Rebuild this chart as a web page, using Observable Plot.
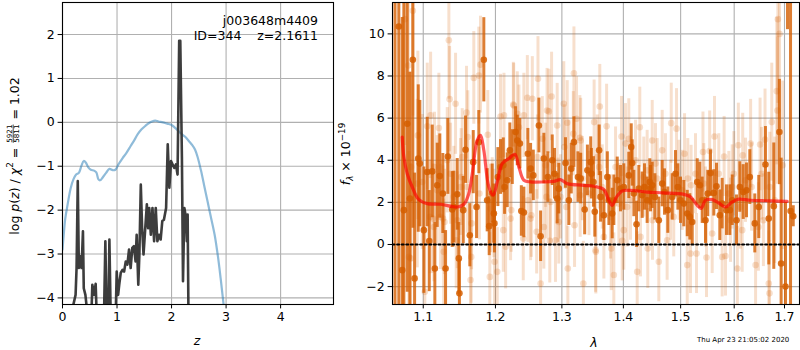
<!DOCTYPE html>
<html><head><meta charset="utf-8">
<script src="https://cdn.jsdelivr.net/npm/d3@7"></script>
<script src="https://cdn.jsdelivr.net/npm/@observablehq/plot@0.6"></script>
<style>
html,body{margin:0;padding:0;background:#fff;}
#wrap{position:relative;width:800px;height:350px;overflow:hidden;}
#wrap svg{position:absolute;top:0;}
</style></head><body><div id="wrap"></div>
<script>
// ---------------- DATA ----------------
// Left panel: p(z) curve (blue) and chi2-based log p(z) (dark)
const pzBlue = [[0.00,-2.9],[0.02,-2.6],[0.05,-2.2],[0.09,-1.9],[0.15,-1.5],[0.20,-1.3],[0.25,-1.19],[0.30,-1.15],[0.35,-0.98],[0.39,-0.88],[0.43,-0.92],[0.47,-1.02],[0.52,-1.08],[0.58,-1.10],[0.62,-1.14],[0.66,-1.30],[0.69,-1.32],[0.74,-1.25],[0.80,-1.15],[0.86,-1.06],[0.92,-1.09],[0.97,-1.08],[1.03,-0.95],[1.10,-0.82],[1.17,-0.70],[1.25,-0.54],[1.32,-0.40],[1.38,-0.27],[1.45,-0.16],[1.52,-0.08],[1.58,-0.02],[1.64,0.02],[1.70,0.04],[1.76,0.02],[1.84,0.00],[1.92,-0.03],[2.00,-0.06],[2.06,-0.12],[2.12,-0.19],[2.18,-0.26],[2.25,-0.33],[2.32,-0.43],[2.38,-0.52],[2.43,-0.62],[2.48,-0.80],[2.54,-1.10],[2.60,-1.45],[2.66,-1.80],[2.72,-2.15],[2.79,-2.56],[2.85,-3.05],[2.90,-3.55],[2.95,-4.10],[3.00,-4.7]];
const pzChi = [[0.17,-4.6],[0.20,-4.15],[0.24,-3.93],[0.258,-3.32],[0.28,-1.34],[0.30,-3.32],[0.33,-3.05],[0.35,-3.32],[0.375,-2.48],[0.39,-3.78],[0.42,-3.93],[0.46,-4.4],[0.50,-5.5],[0.53,-4.4],[0.547,-3.70],[0.577,-3.93],[0.608,-3.68],[0.63,-4.5],[0.70,-5.5],[0.76,-4.5],[0.786,-2.71],[0.81,-4.5],[0.835,-5.0],[0.86,-2.67],[0.885,-4.5],[0.93,-5.5],[0.976,-4.4],[0.994,-3.40],[1.02,-3.93],[1.04,-3.70],[1.068,-3.43],[1.10,-3.36],[1.13,-3.40],[1.16,-3.17],[1.19,-3.24],[1.22,-2.90],[1.25,-3.32],[1.28,-2.86],[1.31,-2.82],[1.34,-3.17],[1.36,-2.56],[1.39,-3.70],[1.41,-3.01],[1.436,-1.42],[1.46,-2.41],[1.486,-3.01],[1.51,-2.56],[1.547,-1.87],[1.57,-2.41],[1.59,-1.95],[1.62,-2.56],[1.65,-1.95],[1.68,-2.71],[1.71,-1.95],[1.74,-2.71],[1.77,-2.56],[1.80,-2.67],[1.83,-2.25],[1.86,-2.22],[1.90,-1.95],[1.93,-0.50],[1.96,-1.49],[1.99,-0.88],[2.02,-0.96],[2.05,-1.04],[2.08,-0.96],[2.11,-1.19],[2.14,1.86],[2.16,1.86],[2.19,-0.8],[2.21,-3.62],[2.235,-1.95],[2.265,-2.18],[2.28,-2.71],[2.295,-2.10],[2.31,-4.4],[2.33,-6.0]];
const zTicks = [0,1,2,3,4];
const lnpTicks = [-4,-3,-2,-1,0,1,2];

// Right panel: spectrum [lambda, flux, err]
const specDark = [[1.0632,-4.5,16],[1.0681,10.35,14],[1.0725,-1.22,12],[1.0746,1.63,10],[1.0790,5.73,8],[1.0824,2.18,6],[1.0863,8.77,8],[1.0886,-1.61,5],[1.0934,4.08,3.5],[1.0955,3.84,3],[1.1008,0.68,3],[1.1053,3.44,2.6],[1.1080,0.16,2.4],[1.1120,3.47,2.2],[1.1155,-1.14,2.2],[1.1187,2.81,2.0],[1.1222,3.25,2.0],[1.1263,2.42,1.9],[1.1300,-1.14,1.8],[1.1331,4.18,1.8],[1.1391,1.66,1.8],[1.1413,1.78,1.7],[1.1460,2.38,1.7],[1.1482,-0.66,1.7],[1.1490,-2.32,1.6],[1.1543,1.63,1.6],[1.1575,4.50,1.6],[1.1635,0.44,1.5],[1.1683,3.91,1.5],[1.1730,1.78,1.5],[1.1762,4.86,1.5],[1.1833,8.77,2.0],[1.1881,2.10,1.5],[1.1910,0.87,1.4],[1.1953,2.42,1.4],[1.1977,1.47,1.4],[1.1985,1.00,1.4],[1.2035,3.20,1.4],[1.2074,3.68,1.3],[1.2114,3.76,1.3],[1.2133,2.73,1.3],[1.2172,3.05,1.3],[1.2210,4.47,1.3],[1.2246,4.15,1.3],[1.2295,5.34,1.2],[1.2320,4.94,1.2],[1.2359,4.79,1.2],[1.2380,1.59,1.2],[1.2418,1.52,1.2],[1.2478,4.31,1.2],[1.2519,3.60,1.2],[1.2560,3.28,1.2],[1.2645,5.65,1.3],[1.2671,0.39,1.2],[1.2721,4.08,1.2],[1.2782,3.20,1.2],[1.2850,4.00,1.2],[1.2885,3.36,1.2],[1.2927,2.18,1.2],[1.2952,2.65,1.2],[1.3057,3.87,1.2],[1.3110,2.10,1.2],[1.3148,3.60,1.2],[1.3190,4.86,1.2],[1.3254,3.20,1.2],[1.3298,3.13,1.2],[1.3362,1.66,1.2],[1.3406,3.52,1.2],[1.3460,3.91,1.2],[1.3471,3.36,1.2],[1.3504,2.97,1.2],[1.3526,1.55,1.2],[1.3597,4.47,1.2],[1.3620,2.26,1.2],[1.3675,1.39,1.2],[1.3732,3.20,1.2],[1.3758,2.10,1.2],[1.3813,1.47,1.2],[1.3840,2.10,1.2],[1.3897,3.05,1.1],[1.3952,2.65,1.1],[1.4007,2.73,1.1],[1.4092,3.28,1.1],[1.4133,4.63,1.1],[1.4150,3.87,1.1],[1.4178,2.42,1.1],[1.4224,0.96,1.1],[1.4263,2.65,1.1],[1.4321,2.34,1.1],[1.4361,2.73,1.1],[1.4407,2.10,1.1],[1.4453,2.97,1.1],[1.4465,2.65,1.1],[1.4495,2.81,1.1],[1.4541,2.26,1.1],[1.4611,1.15,1.1],[1.4670,2.89,1.1],[1.4711,2.49,1.1],[1.4770,1.63,1.1],[1.4849,2.26,1.1],[1.4908,3.36,1.1],[1.4950,2.73,1.1],[1.4998,2.10,1.1],[1.5058,1.94,1.1],[1.5120,1.47,1.1],[1.5167,1.31,1.1],[1.5211,1.07,1.1],[1.5303,2.97,1.1],[1.5351,2.81,1.1],[1.5395,2.10,1.1],[1.5456,1.15,1.1],[1.5499,2.42,1.1],[1.5550,3.39,1.1],[1.5612,2.45,1.1],[1.5662,2.76,1.1],[1.5725,1.39,1.2],[1.5770,1.94,1.2],[1.5852,1.63,1.2],[1.5916,1.63,1.2],[1.5962,2.10,1.2],[1.6045,1.15,1.2],[1.6109,2.73,1.2],[1.6175,2.49,1.3],[1.6239,2.57,1.3],[1.6304,3.20,1.3],[1.6402,1.00,1.4],[1.6481,1.78,1.5],[1.6614,3.80,1.8],[1.6681,1.23,2.2],[1.6782,1.82,3],[1.6896,5.34,2.5],[1.6931,-0.90,5],[1.7020,-2.00,4],[1.7062,14.0,3.8],[1.7124,1.59,15],[1.7180,1.34,0.5]];
const specLight = [[1.0760,10.7,6],[1.0863,11.1,5],[1.0803,8.5,5],[1.1345,9.7,2.8],[1.1355,6.9,2.5],[1.1437,6.68,2.4],[1.1691,7.91,2.2],[1.1762,8.02,2.3],[1.1786,8.54,2.3],[1.1589,6.26,2.2],[1.1098,6.13,3],[1.0929,5.18,4],[1.1053,5.61,3],[1.1209,5.53,2.6],[1.1607,5.10,2.2],[1.1890,5.21,2.1],[1.0811,-0.59,5],[1.0833,-0.66,4.5],[1.1142,0.83,2.6],[1.1275,-0.35,2.5],[1.1645,-1.69,2.2],[1.1655,-0.59,2.2],[1.1919,-1.54,2.1],[1.1021,-2.25,3],[1.1128,1.23,2.6],[1.1529,4.15,2.3],[1.1368,3.36,2.4],[1.0987,2.97,3.2],[1.1232,1.31,2.5],[1.1505,2.73,2.3],[1.1770,2.42,2.2],[1.1953,2.02,2.1],[1.1929,1.71,2.1],[1.1446,0.20,2.3],[1.1285,1.07,2.5],
[1.2631,7.87,2.0],[1.2470,6.97,2.0],[1.2545,6.92,2.0],[1.2840,7.03,2.1],[1.3190,8.13,2.2],[1.3030,6.68,2.0],[1.2797,6.32,2.0],[1.2261,6.65,2.0],[1.2124,6.13,2.0],[1.2074,6.08,2.0],[1.3232,5.97,2.0],[1.2344,5.57,2.0],[1.3285,5.07,2.0],[1.3084,5.78,2.0],[1.2697,5.02,2.0],[1.1977,1.47,2.1],[1.1987,-0.82,2.1],[1.2026,-1.30,2.1],[1.2114,0.68,2.0],[1.2148,-0.11,2.0],[1.2221,1.23,2.0],[1.2409,0.28,2.0],[1.2519,1.23,2.0],[1.2611,0.60,2.0],[1.2671,-1.85,2.0],[1.2721,0.83,2.0],[1.2812,0.17,2.0],[1.2900,0.20,2.0],[1.2952,1.07,2.0],[1.3094,-1.14,2.0],[1.3200,0.91,2.0],[1.3341,-1.85,2.0],[1.3539,-0.27,2.0],[1.2230,1.63,2.0],[1.2823,2.02,2.0],[1.2978,2.26,2.0],[1.3432,2.42,2.0],[1.3290,2.34,2.0],
[1.3608,6.55,2.0],[1.3720,5.61,2.0],[1.3515,5.81,2.0],[1.3597,3.68,2.0],[1.3969,5.13,1.9],[1.4036,4.79,1.9],[1.4092,5.02,1.9],[1.4280,5.57,1.9],[1.4495,4.94,1.9],[1.4831,5.76,1.9],[1.4926,5.50,1.9],[1.5071,4.31,1.9],[1.3543,-0.35,2.0],[1.3675,0.36,2.0],[1.3797,-0.19,2.0],[1.3840,-1.45,2.0],[1.4007,0.68,1.9],[1.3980,0.17,1.9],[1.4235,-1.30,1.9],[1.4292,0.36,1.9],[1.4418,-0.19,1.9],[1.4611,-0.82,1.9],[1.4758,0.20,1.9],[1.5120,-0.98,1.9],[1.5179,-0.43,1.9],[1.3785,1.31,2.0],[1.4064,1.78,1.9],[1.4407,3.52,1.9],[1.4582,3.13,1.9],[1.4972,3.05,1.9],[1.5130,3.13,1.9],[1.4670,4.47,1.9],
[1.6865,10.7,4],[1.6899,10.0,4.5],[1.5625,5.13,1.9],[1.5409,4.39,1.9],[1.5534,4.44,1.9],[1.5807,4.18,1.9],[1.6080,4.71,2.0],[1.6165,4.23,2.0],[1.6320,4.79,2.1],[1.6507,4.75,2.2],[1.6606,4.98,2.4],[1.6741,5.81,2.8],[1.6843,7.28,3.5],[1.6855,6.36,3.5],[1.5290,-0.43,1.9],[1.5475,-0.62,1.9],[1.5770,-0.59,1.9],[1.5833,-0.55,1.9],[1.6061,-1.14,2.0],[1.6418,-0.98,2.1],[1.6681,-1.85,2.5],[1.6695,-2.32,2.5],[1.5581,0.52,1.9],[1.6155,0.68,2.0],[1.6473,0.83,2.1],[1.5962,2.73,2.0],[1.6220,3.05,2.0],[1.6963,3.76,4],[1.5456,1.78,1.9],[1.5930,1.15,2.0],[1.6573,1.15,2.2],
[1.2267,6.60,2.0],[1.2320,6.20,2.0],[1.2418,6.13,2.0],[1.2770,6.36,2.0],[1.2927,5.65,2.0],[1.3180,5.26,2.0],[1.3298,4.94,2.0],[1.3040,4.63,2.0],[1.2622,4.15,2.0],[1.2748,3.76,2.0],[1.3110,3.91,2.0],[1.3325,3.13,2.0],[1.2480,2.10,2.0],[1.2530,1.39,2.0],[1.2760,2.26,2.0],[1.2940,2.10,2.0],[1.3070,1.78,2.0],[1.1150,3.68,2.6],[1.1323,4.00,2.5],[1.1515,3.20,2.3],[1.1599,2.73,2.2],[1.1090,1.31,2.7],[1.1265,1.23,2.5],[1.1460,1.15,2.3],[1.1660,1.00,2.2],[1.0840,3.68,4.5],[1.0921,2.89,4],[1.1187,2.57,2.6],[1.1413,2.26,2.4],
[1.3566,4.15,2.0],[1.3648,2.73,2.0],[1.3869,3.68,1.9],[1.3924,1.94,1.9],[1.4207,4.00,1.9],[1.4349,3.20,1.9],[1.4553,3.84,1.9],[1.4728,3.36,1.9],[1.4818,2.10,1.9],[1.5029,2.57,1.9],[1.5190,2.81,1.9],[1.4121,2.10,1.9],[1.4876,1.31,1.9],[1.4500,1.15,1.9],
[1.5271,3.36,1.9],[1.5425,2.89,1.9],[1.5706,3.36,1.9],[1.5897,2.42,2.0],[1.6118,1.78,2.0],[1.6339,2.73,2.1],[1.6536,3.36,2.2],[1.6701,2.73,2.6],[1.6802,2.10,3],[1.5993,3.36,2.0]];
const modelLine = [[1.0725,5.10],[1.0746,4.15],[1.0790,3.36],[1.0855,2.73],[1.0942,2.13],[1.1053,1.94],[1.1232,1.91],[1.1460,1.78],[1.1552,1.91],[1.1621,2.42],[1.1669,3.36],[1.1739,4.94],[1.1786,5.18],[1.1833,4.47],[1.1905,2.73],[1.1968,2.34],[1.2026,2.97],[1.2099,3.84],[1.2196,4.08],[1.2284,4.28],[1.2344,3.68],[1.2418,3.05],[1.2519,2.97],[1.2721,2.97],[1.2874,3.00],[1.2978,3.08],[1.3084,2.89],[1.3349,2.81],[1.3566,2.73],[1.3674,2.61],[1.3757,2.10],[1.3813,1.86],[1.3885,2.26],[1.3980,2.54],[1.4121,2.57],[1.4407,2.49],[1.4699,2.45],[1.5058,2.38],[1.5179,2.26],[1.5303,1.86],[1.5376,1.71],[1.5456,2.10],[1.5581,2.13],[1.5706,1.97],[1.5833,1.78],[1.5962,2.02],[1.6089,2.15],[1.6318,2.10],[1.6715,2.07],[1.7056,2.05]];
const zeroLine = [[1.06,0],[1.731,0]];
const lamTicks = [1.1,1.2,1.3,1.4,1.5,1.6,1.7];
const fluxTicks = [-2,0,2,4,6,8,10];
const objName = "j003648m4409";
const objInfo = "ID=344    z=2.1611";
const stamp = "Thu Apr 23 21:05:02 2020";

// ---------------- DRAW ----------------
const FONT = "DejaVu Sans";
const FS = 12.5;
const minus = d => (d < 0 ? "\u2212" : "") + Math.abs(d);
const gridStyle = {stroke: "#b0b0b0", strokeOpacity: 1, strokeWidth: 1.1};
const wrap = document.getElementById("wrap");

const left = Plot.plot({
  width: 336, height: 350,
  marginLeft: 62, marginRight: 3, marginTop: 2, marginBottom: 46,
  x: {domain: [0, 4.97]},
  y: {domain: [-4.15, 2.73]},
  style: {fontFamily: FONT, fontSize: FS + "px", color: "black", background: "white"},
  marks: [
    Plot.gridX({ticks: zTicks, ...gridStyle}),
    Plot.gridY({ticks: lnpTicks, ...gridStyle}),
    Plot.line(pzBlue, {x: d => d[0], y: d => d[1], stroke: "#1f77b4", strokeOpacity: 0.5, strokeWidth: 2.2, curve: "catmull-rom", clip: true}),
    Plot.line(pzChi, {x: d => d[0], y: d => d[1], stroke: "#333333", strokeOpacity: 0.95, strokeWidth: 2.6, strokeLinejoin: "round", clip: true}),
    Plot.frame({stroke: "black", strokeWidth: 1.1}),
    Plot.axisX({ticks: zTicks, tickSize: 4.4, tickPadding: 3.5, label: null, tickFormat: minus, fontSize: FS}),
    Plot.axisY({ticks: lnpTicks, tickSize: 4.4, tickPadding: 3.5, label: null, tickFormat: minus, fontSize: FS})
  ]
});
left.style.left = "0px";

const right = Plot.plot({
  width: 467, height: 350,
  marginLeft: 59, marginRight: 1, marginTop: 2, marginBottom: 46,
  x: {type: "log", domain: [1.06, 1.731]},
  y: {domain: [-2.85, 11.49]},
  style: {fontFamily: FONT, fontSize: FS + "px", color: "black", background: "white"},
  marks: [
    Plot.gridX({ticks: lamTicks, ...gridStyle}),
    Plot.gridY({ticks: fluxTicks, ...gridStyle}),
    Plot.ruleX(specLight, {x: d => d[0], y1: d => d[1] - d[2], y2: d => d[1] + d[2], stroke: "#d55e00", strokeOpacity: 0.2, strokeWidth: 3, clip: true}),
    Plot.dot(specLight, {x: d => d[0], y: d => d[1], r: 3.3, fill: "#d55e00", fillOpacity: 0.2, clip: true}),
    Plot.ruleX(specDark, {x: d => d[0], y1: d => d[1] - d[2], y2: d => d[1] + d[2], stroke: "#d55e00", strokeOpacity: 0.8, strokeWidth: 3, clip: true}),
    Plot.dot(specDark, {x: d => d[0], y: d => d[1], r: 3.3, fill: "#d55e00", fillOpacity: 0.85, clip: true}),
    Plot.line(modelLine, {x: d => d[0], y: d => d[1], stroke: "#ff0000", strokeOpacity: 0.65, strokeWidth: 3.2, curve: "catmull-rom", clip: true}),
    Plot.line(zeroLine, {x: d => d[0], y: d => d[1], stroke: "black", strokeWidth: 2, strokeDasharray: "2,2.6", clip: true}),
    Plot.frame({stroke: "black", strokeWidth: 1.1}),
    Plot.axisX({ticks: lamTicks, tickSize: 4.4, tickPadding: 3.5, label: null, tickFormat: d => d.toFixed(1), fontSize: FS}),
    Plot.axisY({ticks: fluxTicks, tickSize: 4.4, tickPadding: 3.5, label: null, tickFormat: minus, fontSize: FS})
  ]
});
right.style.left = "333px";
wrap.appendChild(right);
wrap.appendChild(left);

// rich text helper (labels with italic/sub/superscripts and a fraction)
function richText(svg, {x, y, rotate = 0, anchor = "middle", size = FS, pieces}) {
  const outer = d3.select(svg).append("g")
    .attr("transform", `translate(${x},${y})` + (rotate ? ` rotate(${rotate})` : ""))
    .attr("font-family", FONT).attr("fill", "black").attr("text-anchor", "start");
  const g = outer.append("g");
  let cx = 0;
  for (const p of pieces) {
    if (p.frac) {
      const n = g.append("text").attr("font-size", p.size).attr("y", p.ny).text(p.num);
      const d = g.append("text").attr("font-size", p.size).attr("y", p.dy).text(p.den);
      const wn = n.node().getComputedTextLength(), wd = d.node().getComputedTextLength();
      const w = Math.max(wn, wd);
      n.attr("x", cx + 1 + (w - wn) / 2);
      d.attr("x", cx + 1 + (w - wd) / 2);
      g.append("line").attr("x1", cx + 1).attr("x2", cx + 1 + w).attr("y1", p.by).attr("y2", p.by)
        .attr("stroke", "black").attr("stroke-width", 0.7);
      cx += w + 2;
    } else {
      const t = g.append("text").attr("x", cx).attr("y", p.dy || 0)
        .attr("font-size", p.size || size).style("white-space", "pre").text(p.t);
      if (p.italic) t.attr("font-style", "italic");
      cx += t.node().getComputedTextLength();
    }
  }
  const shift = anchor === "middle" ? -cx / 2 : anchor === "end" ? -cx : 0;
  g.attr("transform", `translate(${shift},0)`);
}

// left y label
richText(left, {x: 18.5, y: 156, rotate: -90, pieces: [
  {t: "log "}, {t: "p", italic: true}, {t: "("}, {t: "z", italic: true}, {t: ") / "},
  {t: "\u03c7", italic: true}, {t: "2", size: 8.8, dy: -5.5}, {t: " = "},
  {frac: true, num: "5921", den: "5811", size: 7.2, ny: -6.2, dy: 0.6, by: -5.3},
  {t: " = 1.02"}
]});
// left x label
richText(left, {x: 197, y: 345, pieces: [{t: "z", italic: true}]});
// annotations
richText(left, {x: 318, y: 24.5, anchor: "end", pieces: [{t: objName}]});
richText(left, {x: 318, y: 39.5, anchor: "end", pieces: [{t: objInfo}]});

// right y label (right svg starts at x=333)
richText(right, {x: 350 - 333, y: 154, rotate: -90, pieces: [
  {t: "f", italic: true}, {t: "\u03bb", italic: true, size: 8.8, dy: 3}, {t: " \u00d7 10"}, {t: "\u221219", size: 8.8, dy: -5.5}
]});
// right x label
richText(right, {x: 594 - 333, y: 346.5, pieces: [{t: "\u03bb", italic: true}]});
// timestamp
richText(right, {x: 697 - 333, y: 342, anchor: "start", size: 7, pieces: [{t: stamp, size: 7}]});
</script></body></html>
